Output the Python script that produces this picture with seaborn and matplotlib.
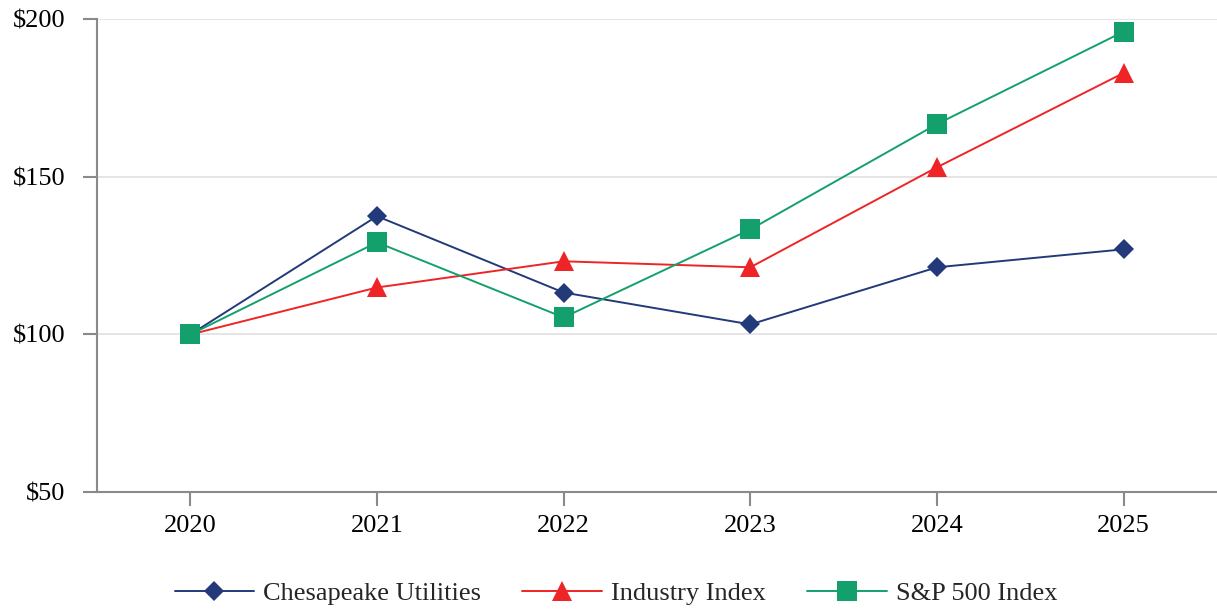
import matplotlib
matplotlib.use("Agg")
import matplotlib.pyplot as plt
import seaborn as sns
import pandas as pd

years = [2020, 2021, 2022, 2023, 2024, 2025]
chesapeake = [100, 137.5, 113.3, 103.2, 121.3, 127.0]
industry = [100, 114.9, 123.2, 121.3, 153.0, 182.9]
sp500 = [100, 129.2, 105.4, 133.3, 166.7, 196.0]
series_names = ["Chesapeake Utilities", "Industry Index", "S&P 500 Index"]
y_ticks = [50, 100, 150, 200]

rows = []
for name, vals in zip(series_names, [chesapeake, industry, sp500]):
    for i, (yr, v) in enumerate(zip(years, vals)):
        rows.append({"pos": i, "year": str(yr), "value": v, "series": name})
df = pd.DataFrame(rows)

sns.set_theme(style="white")
plt.rcParams['font.family'] = ['Liberation Serif', 'DejaVu Serif']

colors = {"Chesapeake Utilities": "#233a7a", "Industry Index": "#ee2427", "S&P 500 Index": "#14a06c"}
markers = {"Chesapeake Utilities": "D", "Industry Index": "^", "S&P 500 Index": "s"}
msizes = {"Chesapeake Utilities": 10, "Industry Index": 14.4, "S&P 500 Index": 14.4}

FS = 19

fig = plt.figure(figsize=(12.17, 6.13), dpi=100)
ax = fig.add_axes([0.0797, 0.197, 0.9203, 0.772])

for name in series_names:
    sub = df[df["series"] == name]
    sns.lineplot(data=sub, x="pos", y="value", ax=ax, color=colors[name],
                 marker=markers[name], markersize=msizes[name], markeredgewidth=0,
                 linewidth=1.4, label=name, zorder=3)

ax.set_xlim(-0.5, 5.5)
ax.set_ylim(50, 200)
ax.set_xticks(range(len(years)))
ax.set_xticklabels([str(y) for y in years], fontsize=FS)
ax.set_yticks(y_ticks)
ax.set_yticklabels([f"${t}" for t in y_ticks], fontsize=FS)
ax.set_xlabel("")
ax.set_ylabel("")
ax.yaxis.grid(True, color="#e3e3e3", linewidth=1.3)
ax.xaxis.grid(False)
for s in ["top", "right"]:
    ax.spines[s].set_visible(False)
for s in ["left", "bottom"]:
    ax.spines[s].set_color("#8a8a8a")
    ax.spines[s].set_linewidth(1.5)
ax.tick_params(axis="both", which="both", direction="out", length=10, width=1.5,
               color="#8a8a8a", colors="black", left=True, bottom=True)
ax.tick_params(axis="x", pad=6.5)
ax.tick_params(axis="y", pad=13)

leg = ax.legend(loc="center", bbox_to_anchor=(0.4634, -0.2135), ncol=3, frameon=False,
                fontsize=FS, handlelength=3.03, columnspacing=1.55, handletextpad=0.34)

fig.savefig("out.png", dpi=100)
